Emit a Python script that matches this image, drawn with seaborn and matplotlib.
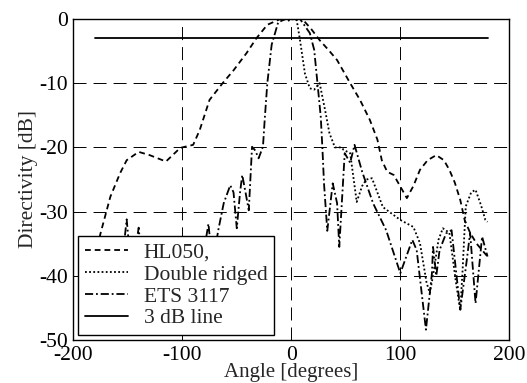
import numpy as np
import pandas as pd
import matplotlib
matplotlib.use("Agg")
import matplotlib.pyplot as plt
import seaborn as sns

# Measured directivity patterns (angle in degrees, level in dB)
hl050_angle = [-180, -175, -166, -157, -151, -140, -130, -115, -102, -100, -90, -84, -75,
               -63, -53, -41, -32, -22, -10, 0, 10, 18, 26, 34, 42, 54, 63, 72, 79, 83,
               88, 94, 100, 106, 112, 118, 125, 133, 140, 145, 150, 155, 159, 164, 170,
               175, 180]
hl050_db = [-37, -33.4, -27.7, -24, -22, -20.7, -21.2, -22.2, -20.1, -20, -19.6, -17.3,
            -12.6, -10, -8, -5.3, -3, -0.9, 0, 0, 0, -1.5, -3.3, -4.8, -6.4, -10, -12.6,
            -15.7, -18.8, -22, -23.8, -24.3, -26.1, -27.9, -26, -23.5, -22, -21.2, -22,
            -23.5, -25.5, -28.2, -31.3, -33.3, -35, -36, -37]

ridged_angle = [-3, 0, 5, 8, 12.5, 17, 21, 26, 31, 35, 40, 46, 48, 54, 60, 65, 69, 74,
                84, 100, 112, 118, 124, 127, 130, 135, 139, 145, 151, 155, 157, 160,
                165, 169, 174, 178, 180]
ridged_db = [-0.3, 0, -0.2, -3.3, -8.5, -10.8, -11, -10, -14.2, -17.8, -20, -20, -20.4,
             -20.9, -28.5, -26, -25, -24.8, -29.3, -31.3, -32.4, -34.9, -41, -42.7, -40,
             -34.4, -32.6, -33.3, -41, -45.4, -39.5, -29.2, -27, -26.6, -29, -31.3, -31.6]

ets_angle = [-180, -170, -160, -154, -151, -148, -143, -140, -137, -128, -118, -108, -98,
             -88, -80, -76, -73, -70, -67, -62, -56, -53, -50, -47, -45, -42, -39, -36,
             -33, -30, -26, -24.4, -22, -18, -12, -5, 0, 8, 17, 21, 24, 27, 28.5, 30, 33,
             38, 42, 44, 49, 54, 58, 65, 75, 87, 100, 111, 115, 123.5, 129, 130, 133,
             136, 142, 147, 155, 161, 164, 169, 175, 180]
ets_db = [-42, -40, -38, -36, -31.2, -37, -36, -32.5, -38, -41, -38, -42, -39, -40, -36,
          -31.9, -37, -36, -32.9, -28.7, -25.9, -27, -32.6, -27, -24.3, -27, -29.8, -19.9,
          -20.5, -21.7, -19.9, -15.7, -10, -4, -0.5, 0, 0, 0, -2.2, -4.8, -10, -15.2, -20,
          -25.6, -33, -25.6, -28.7, -35.5, -20.9, -22.4, -19.6, -23.8, -28.7, -32.9,
          -39.6, -34.4, -36, -48.4, -39.6, -35.5, -40, -36, -33.4, -32.9, -45.3, -37.5,
          -33.3, -44.3, -33.9, -37]

line3db_angle = [-180, 180]
line3db_db = [-3, -3]

series = [
    ("HL050,", hl050_angle, hl050_db, (0, (3.2, 2.2))),
    ("Double ridged", ridged_angle, ridged_db, (0, (1, 1.3))),
    ("ETS 3117", ets_angle, ets_db, (0, (4.5, 1.6, 1, 1.6))),
    ("3 dB line", line3db_angle, line3db_db, "-"),
]

FS = 15.5

sns.set_style("white")
plt.rcParams["font.family"] = ["Liberation Serif", "DejaVu Serif"]
plt.rcParams["font.size"] = FS

fig = plt.figure(figsize=(5.27, 3.83), dpi=100)
ax = fig.add_axes([0.139, 0.1123, 0.8275, 0.8381])

for name, ang, db, ls in series:
    df = pd.DataFrame({"Angle": ang, "Directivity": db})
    sns.lineplot(data=df, x="Angle", y="Directivity", ax=ax, color="black",
                 linewidth=1.3, linestyle=ls, sort=False, label=name)

ax.set_xlim(-200, 200)
ax.set_ylim(-50, 0)
ax.set_xticks([-200, -100, 0, 100, 200])
ax.set_yticks([0, -10, -20, -30, -40, -50])
ax.set_xticklabels(["-200", "-100", "0", "100", "200"])
ax.set_yticklabels(["0", "-10", "-20", "-30", "-40", "-50"])
ax.grid(True, color="black", linewidth=0.7, linestyle=(0, (13.4, 7.2)))
ax.tick_params(direction="in", length=4, width=0.8, colors="black",
               labelsize=FS)
ax.tick_params(axis="x", pad=4)
ax.tick_params(axis="y", pad=4)
for sp in ax.spines.values():
    sp.set_color("black")
    sp.set_linewidth(1.0)

ax.set_xlabel("Angle [degrees]", fontsize=15, labelpad=-1)
ax.set_ylabel("Directivity [dB]", fontsize=FS, labelpad=1)

leg = ax.legend(loc="lower left", bbox_to_anchor=(0.011, 0.016), borderaxespad=0,
                frameon=True, fancybox=False, edgecolor="black", framealpha=1,
                fontsize=FS, handlelength=2.0, handletextpad=0.75,
                labelspacing=0.08, borderpad=0.3)
leg.get_frame().set_linewidth(1.0)

fig.savefig("out.png", dpi=100)
